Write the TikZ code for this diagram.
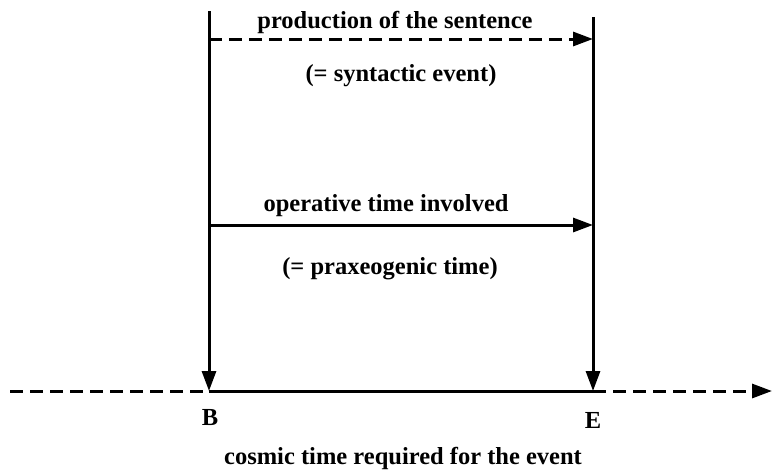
\documentclass[tikz,border=0pt]{standalone}
\usepackage{fontspec}
\setmainfont{Liberation Serif}
\usetikzlibrary{arrows.meta}
\begin{document}
\begin{tikzpicture}[x=1pt,y=-1pt,
  ln/.style={line width=3pt},
  tip/.style={-{Triangle[length=20pt,width=14pt]}},
  dsh/.style={dash pattern=on 13pt off 7pt},
  lbl/.style={font=\fontsize{24.5}{26}\selectfont\bfseries, inner sep=0pt}]
\useasboundingbox (0,0) rectangle (773,472);
\coordinate (LT) at (209,11);
\coordinate (RT) at (593,17);
\coordinate (LB) at (209,391);
\coordinate (RB) at (593,391);
\coordinate (LA) at (209,39);
\coordinate (RA) at (593,39);
\coordinate (LO) at (209,225);
\coordinate (RO) at (593,225);
\coordinate (W) at (10,391);
\coordinate (Ea) at (772,391);
\draw[ln,tip] (LT) -- (LB);
\draw[ln,tip] (RT) -- (RB);
\draw[ln,dsh,tip] (LA) -- (RA);
\draw[ln,tip] (LO) -- (RO);
\draw[ln,dsh] (W) -- (LB);
\draw[ln] (LB) -- (RB);
\draw[ln,dsh,tip] (RB) -- (Ea);
\node[lbl] (p) at (395,22) {production of the sentence};
\node[lbl] (s) at (401,76) {(= syntactic event)};
\node[lbl] (o) at (386,206) {operative time involved};
\node[lbl] (x) at (390,269) {(= praxeogenic time)};
\node[lbl] (B) at (210,418) {B};
\node[lbl] (E) at (593,420) {E};
\node[lbl] (c) at (403,458) {cosmic time required for the event};
\end{tikzpicture}
\end{document}
